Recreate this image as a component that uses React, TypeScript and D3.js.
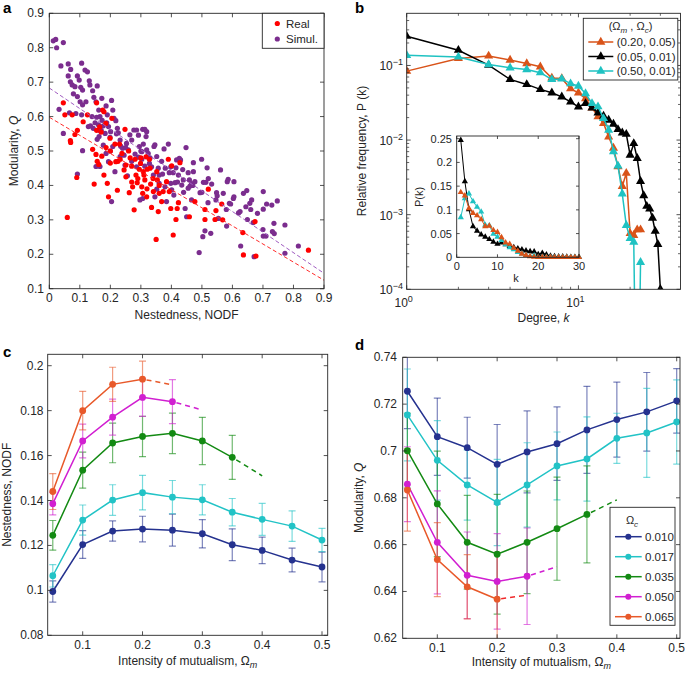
import React from 'react';
import * as d3 from 'd3';

const FONT = '"Liberation Sans", Arial, Helvetica, sans-serif';
const AX = '#262626';

// ---------- Panel a data ----------
const realNodf = [0.046,0.051,0.075,0.069,0.07,0.084,0.092,0.111,0.125,0.09,0.059,0.147,0.155,0.142,0.153,0.157,0.162,0.172,0.175,0.179,0.179,0.19,0.194,0.186,0.199,0.205,0.218,0.223,0.232,0.238,0.248,0.251,0.251,0.262,0.27,0.273,0.278,0.281,0.284,0.288,0.295,0.299,0.303,0.306,0.308,0.313,0.317,0.319,0.321,0.328,0.332,0.335,0.341,0.35,0.352,0.354,0.357,0.36,0.368,0.373,0.384,0.39,0.393,0.398,0.401,0.406,0.415,0.419,0.423,0.428,0.459,0.477,0.51,0.51,0.521,0.543,0.546,0.565,0.568,0.634,0.636,0.674,0.677,0.849,0.165,0.185,0.2,0.215,0.225,0.245,0.265,0.3,0.31,0.33,0.34,0.36,0.29,0.26,0.2,0.17,0.23,0.155,0.32,0.27];
const realQ = [0.64,0.605,0.605,0.53,0.525,0.548,0.56,0.585,0.605,0.423,0.307,0.404,0.64,0.505,0.49,0.47,0.461,0.485,0.619,0.614,0.43,0.406,0.367,0.51,0.537,0.595,0.469,0.386,0.476,0.493,0.563,0.425,0.459,0.379,0.456,0.396,0.329,0.476,0.43,0.408,0.447,0.464,0.396,0.377,0.44,0.416,0.483,0.367,0.447,0.476,0.404,0.336,0.382,0.243,0.44,0.416,0.324,0.377,0.353,0.382,0.411,0.476,0.382,0.333,0.457,0.256,0.301,0.333,0.35,0.466,0.309,0.353,0.301,0.33,0.389,0.301,0.327,0.346,0.3,0.263,0.198,0.295,0.195,0.212,0.57,0.58,0.5,0.52,0.47,0.445,0.48,0.48,0.43,0.45,0.42,0.4,0.42,0.5,0.465,0.555,0.52,0.56,0.39,0.41];
const simNodf = [0.013,0.021,0.024,0.046,0.038,0.062,0.07,0.106,0.117,0.125,0.062,0.069,0.075,0.084,0.092,0.098,0.103,0.109,0.131,0.133,0.157,0.079,0.092,0.101,0.109,0.12,0.142,0.146,0.153,0.162,0.166,0.172,0.186,0.19,0.032,0.046,0.066,0.087,0.106,0.109,0.128,0.135,0.144,0.15,0.155,0.161,0.166,0.173,0.177,0.183,0.188,0.194,0.201,0.199,0.204,0.208,0.212,0.218,0.223,0.226,0.232,0.234,0.163,0.157,0.153,0.166,0.177,0.186,0.194,0.208,0.215,0.232,0.24,0.245,0.248,0.253,0.259,0.256,0.204,0.092,0.264,0.27,0.277,0.286,0.292,0.295,0.303,0.306,0.308,0.313,0.319,0.317,0.319,0.324,0.328,0.313,0.303,0.281,0.286,0.292,0.297,0.306,0.335,0.341,0.343,0.346,0.352,0.357,0.36,0.352,0.346,0.368,0.371,0.376,0.379,0.384,0.39,0.393,0.398,0.398,0.401,0.406,0.408,0.412,0.415,0.417,0.423,0.426,0.43,0.434,0.437,0.439,0.445,0.448,0.45,0.455,0.455,0.459,0.461,0.466,0.472,0.477,0.466,0.472,0.491,0.494,0.499,0.503,0.505,0.51,0.513,0.517,0.521,0.529,0.532,0.546,0.548,0.554,0.561,0.57,0.581,0.583,0.586,0.59,0.594,0.603,0.605,0.605,0.625,0.627,0.644,0.647,0.649,0.657,0.663,0.668,0.671,0.682,0.7,0.701,0.701,0.701,0.71,0.712,0.729,0.731,0.736,0.737,0.747,0.772,0.772,0.816,0.636,0.14,0.17,0.2,0.22,0.25,0.27,0.3,0.33,0.36,0.38,0.42,0.44,0.47,0.5,0.52,0.55,0.58,0.62,0.66];
const simQ = [0.82,0.824,0.8,0.815,0.747,0.753,0.737,0.755,0.735,0.73,0.718,0.701,0.692,0.687,0.718,0.706,0.685,0.677,0.704,0.692,0.689,0.666,0.658,0.643,0.634,0.643,0.675,0.656,0.643,0.619,0.6,0.653,0.631,0.605,0.621,0.551,0.611,0.609,0.605,0.501,0.571,0.573,0.566,0.582,0.598,0.576,0.559,0.589,0.573,0.551,0.582,0.571,0.556,0.54,0.647,0.619,0.595,0.588,0.566,0.553,0.532,0.514,0.542,0.534,0.455,0.455,0.517,0.493,0.469,0.513,0.44,0.484,0.508,0.488,0.459,0.522,0.503,0.428,0.353,0.433,0.547,0.532,0.561,0.561,0.546,0.513,0.498,0.563,0.52,0.563,0.556,0.542,0.503,0.493,0.464,0.456,0.476,0.491,0.454,0.482,0.358,0.362,0.454,0.43,0.513,0.518,0.484,0.45,0.406,0.389,0.367,0.47,0.433,0.506,0.396,0.353,0.52,0.437,0.454,0.406,0.387,0.437,0.372,0.408,0.451,0.474,0.43,0.479,0.474,0.401,0.446,0.416,0.333,0.51,0.309,0.392,0.437,0.416,0.398,0.358,0.44,0.411,0.405,0.466,0.205,0.379,0.476,0.251,0.409,0.268,0.409,0.451,0.42,0.261,0.404,0.358,0.379,0.304,0.445,0.377,0.282,0.411,0.418,0.348,0.346,0.362,0.411,0.367,0.324,0.224,0.338,0.385,0.301,0.348,0.358,0.292,0.193,0.319,0.272,0.331,0.382,0.253,0.253,0.346,0.343,0.266,0.29,0.26,0.355,0.203,0.285,0.224,0.377,0.6,0.56,0.5,0.55,0.51,0.47,0.5,0.48,0.43,0.45,0.41,0.38,0.4,0.38,0.35,0.37,0.33,0.32,0.33];
const fitReal = [0.598, -0.526]; // intercept, slope
const fitSim = [0.683, -0.598];
const nodfTicks = [0, 0.1, 0.2, 0.3, 0.4, 0.5, 0.6, 0.7, 0.8, 0.9];
const modTicksA = [0.1, 0.2, 0.3, 0.4, 0.5, 0.6, 0.7, 0.8, 0.9];
const scatterLegend = ['Real', 'Simul.'];

// ---------- Panel b data ----------
const degreeK = [1,2,3,4,5,6,7,8,9,10,11,12,13,14,15,16,17,18,19,20,21,22,23,24,25,26,27,28,29,30];
const pkOrange = [0.084,0.124,0.134,0.118,0.106,0.096,0.068,0.067,0.049,0.043,0.036,0.027,0.0206,0.0168,0.011,0.0078,0.0044,0.0024,0.0036,0.00056,0.00053,0.00063,0.00063];
const pkBlack = [0.247,0.160,0.101,0.065,0.0557,0.0478,0.043,0.038,0.0326,0.0279,0.031,0.027,0.0232,0.021,0.0185,0.0164,0.0139,0.0125,0.012,0.0063,0.009,0.0057,0.0028,0.0018,0.0013,0.0012,0.0009,0.0006,0.0004,0.0001];
const pkCyan = [0.137,0.130,0.103,0.093,0.088,0.080,0.065,0.066,0.057,0.053,0.042,0.031,0.028,0.0195,0.0136,0.007,0.0045,0.0019,0.00072,0.00048,0.00043,0,0.00023];
const degreeLegend = ['(0.20, 0.05)', '(0.05, 0.01)', '(0.50, 0.01)'];
const yExpTicks = [-4, -3, -2, -1];
const xExpTicks = [0, 1];
const insetKTicks = [0, 10, 20, 30];
const insetPTicks = [0, 0.05, 0.1, 0.15, 0.2, 0.25];

// ---------- Panels c, d data ----------
const omegaM = [0.05,0.1,0.15,0.2,0.25,0.3,0.35,0.4,0.45,0.5];
const omegaC = ['0.010', '0.017', '0.035', '0.050', '0.065'];
const nodf010 = [0.0995,0.1204,0.1264,0.1273,0.1268,0.1252,0.1203,0.1178,0.1135,0.1104];
const nodf017 = [0.1065,0.1313,0.1402,0.1435,0.1415,0.1403,0.1348,0.1316,0.1286,0.1224];
const nodf035 = [0.1245,0.1535,0.1656,0.1685,0.1699,0.1665,0.1592];
const nodf050 = [0.1386,0.1665,0.1771,0.1859,0.184];
const nodf065 = [0.144,0.18,0.1917,0.194];
const nodfErr010 = [0.0047,0.0062,0.0045,0.0057,0.0071,0.0063,0.0071,0.0059,0.0053,0.0066];
const nodfErr017 = [0.005,0.0067,0.0068,0.0077,0.0074,0.0067,0.0061,0.0071,0.0068,0.0052];
const nodfErr035 = [0.0066,0.008,0.0088,0.009,0.009,0.0105,0.0098];
const nodfErr050 = [0.005,0.0075,0.008,0.0085,0.0098];
const nodfErr065 = [0.008,0.0086,0.0076,0.008];
const nodfDashEnd = [null, null, [0.4, 0.151], [0.3, 0.1803], [0.25, 0.1915]];
const modQ010 = [0.7255,0.7061,0.7014,0.6943,0.6996,0.7031,0.709,0.7134,0.7167,0.7214];
const modQ017 = [0.7154,0.696,0.6855,0.678,0.6855,0.6936,0.6966,0.7054,0.7077,0.7124];
const modQ035 = [0.7001,0.6774,0.661,0.6559,0.661,0.6668,0.6729];
const modQ050 = [0.6858,0.661,0.6469,0.6443,0.6465];
const modQ065 = [0.6833,0.6536,0.642,0.6367];
const modErr010 = [0.016,0.0165,0.013,0.017,0.0175,0.0157,0.0186,0.016,0.0168,0.0138];
const modErr017 = [0.0196,0.017,0.015,0.0184,0.018,0.0145,0.018,0.0107,0.019,0.018];
const modErr035 = [0.016,0.0225,0.02,0.0256,0.0219,0.022,0.0207];
const modErr050 = [0.016,0.022,0.0185,0.0204,0.0206];
const modErr065 = [0.0175,0.0158,0.0137,0.02];
const modDashEnd = [null, null, [0.4, 0.6791], [0.3, 0.6506], [0.25, 0.6384]];
const omegaTicks = [0.1, 0.2, 0.3, 0.4, 0.5];
const nodfTicksC = [0.08, 0.1, 0.12, 0.14, 0.16, 0.18, 0.2];
const modTicksD = [0.62, 0.64, 0.66, 0.68, 0.7, 0.72, 0.74];

const seriesColors = ['#25328f', '#22c3c6', '#138a13', '#d11fd1', '#e8592a'];
const dashColorsD = ['#25328f', '#22c3c6', '#138a13', '#d11fd1', '#f0282a'];
const bColors = ['#d95319', '#000000', '#1fc2c2'];

const fmt = (v: number) => String(+v.toFixed(3));

type Box = { l: number; r: number; t: number; b: number };

function Frame({ box }: { box: Box }) {
  return <rect x={box.l} y={box.t} width={box.r - box.l} height={box.b - box.t} fill="none" stroke={AX} strokeWidth={0.9} />;
}

function LinAxes({ box, x, y, xt, yt, xLabY, yLabX, fs = 12, tl = 4 }: any) {
  return (
    <g fontFamily={FONT} fontSize={fs} fill={AX}>
      {xt.map((v: number) => (
        <g key={'x' + v}>
          <line x1={x(v)} x2={x(v)} y1={box.b} y2={box.b - tl} stroke={AX} strokeWidth={0.8} />
          <line x1={x(v)} x2={x(v)} y1={box.t} y2={box.t + tl} stroke={AX} strokeWidth={0.8} />
          <text x={x(v)} y={xLabY} textAnchor="middle">{fmt(v)}</text>
        </g>
      ))}
      {yt.map((v: number) => (
        <g key={'y' + v}>
          <line x1={box.l} x2={box.l + tl} y1={y(v)} y2={y(v)} stroke={AX} strokeWidth={0.8} />
          <line x1={box.r} x2={box.r - tl} y1={y(v)} y2={y(v)} stroke={AX} strokeWidth={0.8} />
          <text x={yLabX} y={y(v) + 4} textAnchor="end">{fmt(v)}</text>
        </g>
      ))}
      <Frame box={box} />
    </g>
  );
}

function PanelA() {
  const box: Box = { l: 49.3, r: 324, t: 13.3, b: 288.7 };
  const x = d3.scaleLinear().domain([0, 0.9]).range([box.l, box.r]);
  const y = d3.scaleLinear().domain([0.1, 0.9]).range([box.b, box.t]);
  const fitLine = (f: number[]) => [[0, f[0]], [0.9, f[0] + f[1] * 0.9]];
  const ln = d3.line<number[]>().x(d => x(d[0])).y(d => y(d[1]));
  return (
    <g>
      <defs><clipPath id="clipA"><rect x={box.l} y={box.t} width={box.r - box.l} height={box.b - box.t} /></clipPath></defs>
      <g clipPath="url(#clipA)">
        {simNodf.map((v, i) => <circle key={'s' + i} cx={x(v)} cy={y(simQ[i])} r={2.6} fill="#7b2d8e" />)}
        {realNodf.map((v, i) => <circle key={'r' + i} cx={x(v)} cy={y(realQ[i])} r={2.6} fill="#ff0000" />)}
        <path d={ln(fitLine(fitSim)) || ''} stroke="#a05cc0" strokeWidth={1} strokeDasharray="4,2.5" fill="none" />
        <path d={ln(fitLine(fitReal)) || ''} stroke="#ff2a2a" strokeWidth={1} strokeDasharray="4,2.5" fill="none" />
      </g>
      <LinAxes box={box} x={x} y={y} xt={nodfTicks} yt={modTicksA} xLabY={302} yLabX={44} />
      <rect x={262.3} y={13.3} width={61.7} height={35} fill="#fff" stroke={AX} strokeWidth={0.9} />
      {scatterLegend.map((t, i) => (
        <g key={t}>
          <circle cx={277.3} cy={23.5 + i * 15.5} r={2.6} fill={i === 0 ? '#ff0000' : '#7b2d8e'} />
          <text x={286} y={27.5 + i * 15.5} fontFamily={FONT} fontSize={11.5} fill={AX}>{t}</text>
        </g>
      ))}
      <text x={186.6} y={319} textAnchor="middle" fontFamily={FONT} fontSize={12} fill={AX}>Nestedness, NODF</text>
      <text transform={`translate(18,151) rotate(-90)`} textAnchor="middle" fontFamily={FONT} fontSize={12} fill={AX}>
        Modularity, <tspan fontStyle="italic">Q</tspan>
      </text>
      <text x={3} y={13} fontFamily={FONT} fontSize={15} fontWeight="bold" fill="#000">a</text>
    </g>
  );
}

function PanelB() {
  const box: Box = { l: 406.7, r: 680.5, t: 13.3, b: 289.3 };
  const x = d3.scaleLog().domain([1, 39.3]).range([box.l, box.r]);
  const y = d3.scaleLog().domain([1e-4, 0.5]).range([box.b, box.t]);
  const yy = (v: number) => (v > 0 ? y(v) : box.b + 200);
  const series = [pkOrange, pkBlack, pkCyan];
  const tri = d3.symbol().type(d3.symbolTriangle).size(36)() || '';
  const triS = d3.symbol().type(d3.symbolTriangle).size(17)() || '';
  const minorY: number[] = [];
  for (let n = -4; n <= -1; n++) for (let m = 2; m <= 9; m++) { const v = m * Math.pow(10, n); if (v < 0.5) minorY.push(v); }
  const minorX = [2, 3, 4, 5, 6, 7, 8, 9, 20, 30];
  // inset
  const ibox: Box = { l: 456.7, r: 579, t: 136, b: 257.3 };
  const xi = d3.scaleLinear().domain([0, 30]).range([ibox.l, ibox.r]);
  const yi = d3.scaleLinear().domain([0, 0.25]).range([ibox.b, 138.7]);
  const pad = (arr: number[]) => degreeK.map((k, i) => (i < arr.length ? arr[i] : 0));
  const insetSeries = [
    { d: pkBlack, c: bColors[1] },
    { d: pad(pkOrange), c: bColors[2] },
    { d: pad(pkCyan), c: bColors[0] },
  ];
  const tl = 4;
  return (
    <g>
      <defs><clipPath id="clipB"><rect x={box.l} y={box.t} width={box.r - box.l} height={box.b - box.t} /></clipPath></defs>
      <g clipPath="url(#clipB)">
        {series.map((s, si) => {
          const pts = s.map((v, i) => [x(degreeK[i]), yy(v)] as [number, number]);
          return (
            <g key={si}>
              <path d={d3.line()(pts) || ''} stroke={bColors[si]} strokeWidth={1.5} fill="none" />
              {pts.map((p, i) => (s[i] > 0 ? <path key={i} d={tri} transform={`translate(${p[0]},${p[1]})`} fill={bColors[si]} /> : null))}
            </g>
          );
        })}
      </g>
      <g fontFamily={FONT} fill={AX}>
        {minorY.map(v => (
          <g key={'my' + v}>
            <line x1={box.l} x2={box.l + 2.5} y1={y(v)} y2={y(v)} stroke={AX} strokeWidth={0.7} />
            <line x1={box.r} x2={box.r - 2.5} y1={y(v)} y2={y(v)} stroke={AX} strokeWidth={0.7} />
          </g>
        ))}
        {minorX.map(v => (
          <g key={'mx' + v}>
            <line x1={x(v)} x2={x(v)} y1={box.b} y2={box.b - 2.5} stroke={AX} strokeWidth={0.7} />
            <line x1={x(v)} x2={x(v)} y1={box.t} y2={box.t + 2.5} stroke={AX} strokeWidth={0.7} />
          </g>
        ))}
        {yExpTicks.map(e => (
          <g key={'ye' + e}>
            <line x1={box.l} x2={box.l + tl} y1={y(Math.pow(10, e))} y2={y(Math.pow(10, e))} stroke={AX} strokeWidth={0.8} />
            <line x1={box.r} x2={box.r - tl} y1={y(Math.pow(10, e))} y2={y(Math.pow(10, e))} stroke={AX} strokeWidth={0.8} />
            <text x={403} y={y(Math.pow(10, e)) + 5} textAnchor="end" fontSize={12}>10<tspan dy={-5} fontSize={9}>{'\u2212' + Math.abs(e)}</tspan></text>
          </g>
        ))}
        {xExpTicks.map(e => (
          <g key={'xe' + e}>
            <line x1={x(Math.pow(10, e))} x2={x(Math.pow(10, e))} y1={box.b} y2={box.b - tl} stroke={AX} strokeWidth={0.8} />
            <line x1={x(Math.pow(10, e))} x2={x(Math.pow(10, e))} y1={box.t} y2={box.t + tl} stroke={AX} strokeWidth={0.8} />
            <text x={x(Math.pow(10, e)) - 3} y={306.5} textAnchor="middle" fontSize={12}>10<tspan dy={-5} fontSize={9}>{String(e)}</tspan></text>
          </g>
        ))}
        <Frame box={box} />
      </g>
      {/* inset */}
      <rect x={ibox.l} y={ibox.t} width={ibox.r - ibox.l} height={ibox.b - ibox.t} fill="#fff" />
      {insetSeries.map((s, si) => {
        const pts = s.d.map((v, i) => [xi(degreeK[i]), yi(v)] as [number, number]);
        return (
          <g key={'in' + si}>
            <path d={d3.line()(pts) || ''} stroke={s.c} strokeWidth={1} fill="none" />
            {pts.map((p, i) => <path key={i} d={triS} transform={`translate(${p[0]},${p[1]})`} fill={s.c} />)}
          </g>
        );
      })}
      <LinAxes box={ibox} x={xi} y={yi} xt={insetKTicks} yt={insetPTicks} xLabY={270} yLabX={452} fs={11} tl={3} />
      <text x={516} y={282} textAnchor="middle" fontFamily={FONT} fontSize={11} fill={AX}>k</text>
      <text transform="translate(423,197) rotate(-90)" textAnchor="middle" fontFamily={FONT} fontSize={11} fill={AX}>P(k)</text>
      {/* legend */}
      <rect x={583.3} y={18.3} width={94.5} height={61.7} fill="#fff" stroke={AX} strokeWidth={0.9} />
      <text x={630.5} y={30} textAnchor="middle" fontFamily={FONT} fontSize={11} fill={AX}>
        (Ω<tspan dy={3} fontSize={8} fontStyle="italic">m</tspan><tspan dy={-3}> , Ω</tspan><tspan dy={3} fontSize={8} fontStyle="italic">c</tspan><tspan dy={-3}>)</tspan>
      </text>
      {degreeLegend.map((t, i) => (
        <g key={t}>
          <line x1={588.3} x2={613.3} y1={42 + i * 14.5} y2={42 + i * 14.5} stroke={bColors[i]} strokeWidth={1.5} />
          <path d={tri} transform={`translate(600.8,${42 + i * 14.5})`} fill={bColors[i]} />
          <text x={616.7} y={46 + i * 14.5} fontFamily={FONT} fontSize={11.5} fill={AX}>{t}</text>
        </g>
      ))}
      <text x={543.5} y={322} textAnchor="middle" fontFamily={FONT} fontSize={12} fill={AX}>
        Degree, <tspan fontStyle="italic">k</tspan>
      </text>
      <text transform="translate(366,151) rotate(-90)" textAnchor="middle" fontFamily={FONT} fontSize={12} fill={AX}>Relative frequency, P (k)</text>
      <text x={355} y={13} fontFamily={FONT} fontSize={15} fontWeight="bold" fill="#000">b</text>
    </g>
  );
}

function ErrPanel({ box, x, y, means, errs, dashEnds, dashCols, yt, xLabY, yLabX, clipId }: any) {
  return (
    <g>
      <defs><clipPath id={clipId}><rect x={box.l} y={box.t} width={box.r - box.l} height={box.b - box.t} /></clipPath></defs>
      <g clipPath={`url(#${clipId})`}>
        {means.map((m: number[], si: number) => (
          <g key={'e' + si} stroke={seriesColors[si]} strokeOpacity={0.6} strokeWidth={1.2}>
            {m.map((v, i) => {
              const xp = x(omegaM[i]);
              const y1 = y(v - errs[si][i]);
              const y2 = y(v + errs[si][i]);
              return (
                <g key={i}>
                  <line x1={xp} x2={xp} y1={y1} y2={y2} />
                  <line x1={xp - 3.5} x2={xp + 3.5} y1={y1} y2={y1} />
                  <line x1={xp - 3.5} x2={xp + 3.5} y1={y2} y2={y2} />
                </g>
              );
            })}
          </g>
        ))}
        {means.map((m: number[], si: number) => {
          const pts = m.map((v, i) => [x(omegaM[i]), y(v)] as [number, number]);
          const de = dashEnds[si];
          const last = pts[pts.length - 1];
          return (
            <g key={'l' + si}>
              {de && (
                <line x1={last[0] + 4} y1={last[1] + (y(de[1]) - last[1]) * 4 / (x(de[0]) - last[0])}
                  x2={x(de[0])} y2={y(de[1])} stroke={dashCols[si]} strokeWidth={1.5} strokeDasharray="5,4" />
              )}
              <path d={d3.line()(pts) || ''} stroke={seriesColors[si]} strokeWidth={1.5} fill="none" />
              {pts.map((p, i) => <circle key={i} cx={p[0]} cy={p[1]} r={3.4} fill={seriesColors[si]} />)}
            </g>
          );
        })}
      </g>
      <LinAxes box={box} x={x} y={y} xt={omegaTicks} yt={yt} xLabY={xLabY} yLabX={yLabX} />
    </g>
  );
}

function PanelC() {
  const box: Box = { l: 47.7, r: 327.7, t: 354.3, b: 635.3 };
  const x = d3.scaleLinear().domain([0.1, 0.5]).range([82.7, 322]);
  const y = d3.scaleLinear().domain([0.08, 0.2]).range([635.3, 365.7]);
  return (
    <g>
      <ErrPanel clipId="clipC" box={box} x={x} y={y}
        means={[nodf010, nodf017, nodf035, nodf050, nodf065]}
        errs={[nodfErr010, nodfErr017, nodfErr035, nodfErr050, nodfErr065]}
        dashEnds={nodfDashEnd} dashCols={seriesColors} yt={nodfTicksC} xLabY={648.5} yLabX={43.5} />
      <text x={187.7} y={665} textAnchor="middle" fontFamily={FONT} fontSize={12} fill={AX}>
        Intensity of mutualism, Ω<tspan dy={3} fontSize={9} fontStyle="italic">m</tspan>
      </text>
      <text transform="translate(11,494.8) rotate(-90)" textAnchor="middle" fontFamily={FONT} fontSize={12} fill={AX}>Nestedness, NODF</text>
      <text x={3} y={357} fontFamily={FONT} fontSize={15} fontWeight="bold" fill="#000">c</text>
    </g>
  );
}

function PanelD() {
  const box: Box = { l: 402.7, r: 680, t: 357.3, b: 638.3 };
  const x = d3.scaleLinear().domain([0.1, 0.5]).range([437.3, 676.7]);
  const y = d3.scaleLinear().domain([0.62, 0.74]).range([638.3, 357.3]);
  return (
    <g>
      <ErrPanel clipId="clipD" box={box} x={x} y={y}
        means={[modQ010, modQ017, modQ035, modQ050, modQ065]}
        errs={[modErr010, modErr017, modErr035, modErr050, modErr065]}
        dashEnds={modDashEnd} dashCols={dashColorsD} yt={modTicksD} xLabY={651.5} yLabX={397} />
      <rect x={610} y={507.3} width={65} height={118} fill="#fff" stroke={AX} strokeWidth={0.9} />
      <text x={632} y={524} textAnchor="middle" fontFamily={FONT} fontSize={11} fill={AX}>
        Ω<tspan dy={3} fontSize={8} fontStyle="italic">c</tspan>
      </text>
      {omegaC.map((t, i) => (
        <g key={t}>
          <line x1={615} x2={641.7} y1={536.7 + i * 20} y2={536.7 + i * 20} stroke={seriesColors[i]} strokeWidth={1.5} />
          <circle cx={628.3} cy={536.7 + i * 20} r={3} fill={seriesColors[i]} />
          <text x={645} y={540.7 + i * 20} fontFamily={FONT} fontSize={11.5} fill={AX}>{t}</text>
        </g>
      ))}
      <text x={541.3} y={666} textAnchor="middle" fontFamily={FONT} fontSize={12} fill={AX}>
        Intensity of mutualism, Ω<tspan dy={3} fontSize={9} fontStyle="italic">m</tspan>
      </text>
      <text transform="translate(363,497.8) rotate(-90)" textAnchor="middle" fontFamily={FONT} fontSize={12} fill={AX}>
        Modularity, <tspan fontStyle="italic">Q</tspan>
      </text>
      <text x={355} y={350} fontFamily={FONT} fontSize={15} fontWeight="bold" fill="#000">d</text>
    </g>
  );
}

export default function App() {
  return (
    <svg width={685} height={673} style={{ position: 'absolute', left: 0, top: 0, background: '#fff' }}>
      <rect x={0} y={0} width={685} height={673} fill="#fff" />
      <PanelA />
      <PanelB />
      <PanelC />
      <PanelD />
    </svg>
  );
}
